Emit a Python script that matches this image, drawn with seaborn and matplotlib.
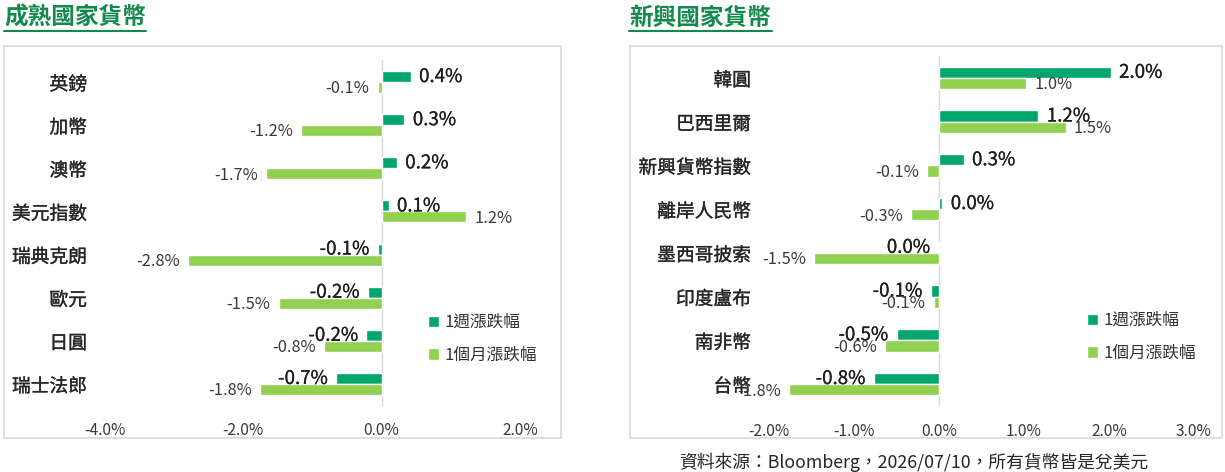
import pandas as pd
import matplotlib.pyplot as plt
import matplotlib.patheffects as pe
import seaborn as sns
from matplotlib.patches import Rectangle
from matplotlib.lines import Line2D

# data (percent)
dev_names = ['英鎊', '加幣', '澳幣', '美元指數', '瑞典克朗', '歐元', '日圓', '瑞士法郎']
dev_week = [0.42, 0.33, 0.22, 0.10, -0.06, -0.20, -0.22, -0.66]
dev_month = [-0.06, -1.16, -1.67, 1.22, -2.80, -1.49, -0.83, -1.76]

em_names = ['韓圓', '巴西里爾', '新興貨幣指數', '離岸人民幣', '墨西哥披索', '印度盧布', '南非幣', '台幣']
em_week = [2.02, 1.17, 0.29, 0.04, -0.01, -0.10, -0.50, -0.77]
em_month = [1.02, 1.49, -0.14, -0.33, -1.47, -0.06, -0.63, -1.76]

series = ['1週漲跌幅', '1個月漲跌幅']
dev_ticks = [-4, -2, 0, 2]
em_ticks = [-2, -1, 0, 1, 2, 3]

DARK = '#00A66B'
LIGHT = '#92D050'
TITLE_GREEN = '#138A4C'
FONT = ['Noto Sans CJK TC', 'DejaVu Sans']

sns.set_style('white')
plt.rcParams['font.family'] = FONT

W, H = 1225, 472
fig = plt.figure(figsize=(W / 100, H / 100), dpi=100)


def px(x0, y0, x1, y1):
    # pixel box (top-left origin) -> figure rect
    return [x0 / W, 1 - y1 / H, (x1 - x0) / W, (y1 - y0) / H]


def fmt(v):
    return f'{round(v, 1) + 0.0:.1f}%'


def semibold(color, lw=0.3):
    return [pe.withStroke(linewidth=lw, foreground=color)]


def panel(rect, names, week, month, ticks, title, title_box, frame, legend_at):
    df = pd.DataFrame({
        'name': names * 2,
        'value': week + month,
        'series': [series[0]] * len(names) + [series[1]] * len(names),
    })
    ax = fig.add_axes(rect)
    sns.barplot(data=df, y='name', x='value', hue='series', hue_order=series,
                palette=[DARK, LIGHT], orient='h', width=0.51, dodge=True,
                saturation=1, ax=ax, legend=True)
    ax.set_xlim(ticks[0], ticks[-1])
    ax.set_ylim(len(names) - 0.5, -0.5)
    ax.set_xticks(ticks)
    ax.set_xticklabels([f'{t:.1f}%' for t in ticks], fontsize=11.2, color='#383838')
    ax.set_yticklabels(names, fontsize=13.5, color='#262626')
    for t in ax.get_yticklabels():
        t.set_path_effects(semibold('#262626', 0.2))
    ax.tick_params(axis='x', length=0, pad=12)
    ax.tick_params(axis='y', length=0, pad=13)
    ax.set_xlabel('')
    ax.set_ylabel('')
    for s in ax.spines.values():
        s.set_visible(False)
    ax.axvline(0, color='#d9d9d9', lw=1, zorder=0)

    off = 0.1275
    for i, (w, m) in enumerate(zip(week, month)):
        ax.annotate(fmt(w), (w, i - off), xytext=(6 if w >= 0 else -6, 0),
                    textcoords='offset points', ha='left' if w >= 0 else 'right',
                    va='center', fontsize=13.5, color='#1e1e1e',
                    path_effects=semibold('#1e1e1e', 0.15))
        ax.annotate(fmt(m), (m, i + off + 0.03), xytext=(6 if m >= 0 else -6, 0),
                    textcoords='offset points', ha='left' if m >= 0 else 'right',
                    va='center', fontsize=11.8, color='#3a3a3a')

    handles, labels = ax.get_legend_handles_labels()
    leg = ax.legend(handles, labels, loc='upper left', bbox_to_anchor=legend_at,
                    bbox_transform=fig.transFigure, frameon=False, fontsize=12,
                    handlelength=0.65, handleheight=0.65, handletextpad=0.35,
                    labelspacing=0.95, borderpad=0, borderaxespad=0)
    for t in leg.get_texts():
        t.set_color('#333333')

    fig.text(title_box[0] / W, 1 - 18 / H, title, fontsize=17, fontweight='bold',
             color=TITLE_GREEN, ha='left', va='center')
    fig.add_artist(Line2D([title_box[0] / W, title_box[1] / W], [1 - 31 / H] * 2,
                          color=TITLE_GREEN, lw=1.5))
    fig.add_artist(Rectangle((frame[0] / W, 1 - frame[3] / H),
                             (frame[2] - frame[0]) / W, (frame[3] - frame[1]) / H,
                             transform=fig.transFigure, fill=False,
                             ec='#d9d9d9', lw=1.2))
    return ax


panel(px(105, 60.5, 520, 405.5), dev_names, dev_week, dev_month, dev_ticks,
      '成熟國家貨幣', (4, 146), (4, 46, 561, 438), (428 / W, 1 - 314 / H))
panel(px(769, 56, 1194, 406), em_names, em_week, em_month, em_ticks,
      '新興國家貨幣', (629, 772), (630, 46, 1222, 438), (1087 / W, 1 - 312 / H))

fig.text(914 / W, 1 - 462 / H, '資料來源：Bloomberg，2026/07/10，所有貨幣皆是兌美元',
         fontsize=12.8, color='#262626', ha='center', va='center')

fig.savefig('out.png', dpi=100)
